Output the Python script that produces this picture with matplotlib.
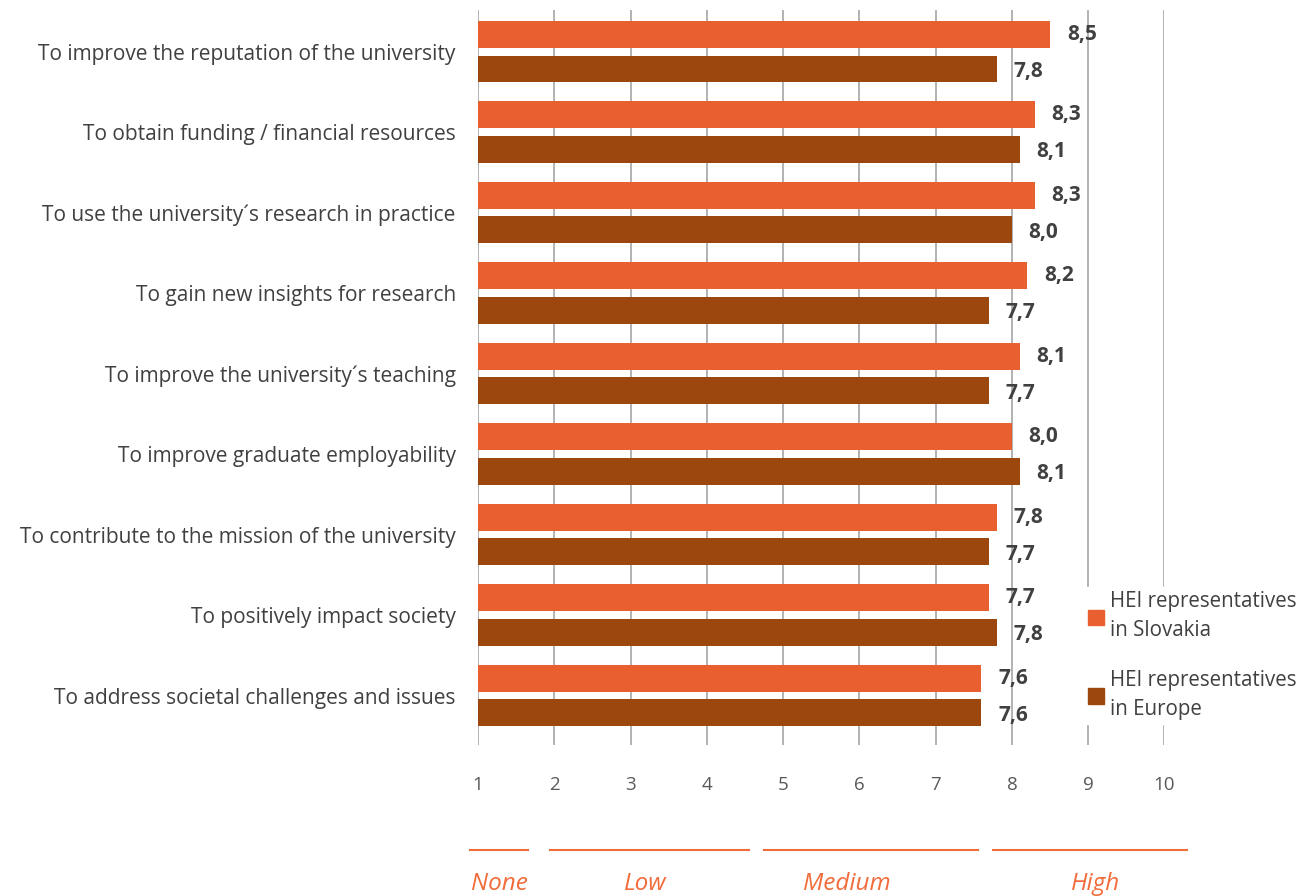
import numpy as np
import matplotlib.pyplot as plt
from matplotlib.patches import Patch

plt.rcParams['font.family'] = ['Open Sans', 'DejaVu Sans']

categories = [
    'To improve the reputation of the university',
    'To obtain funding / financial resources',
    'To use the university\u00b4s research in practice',
    'To gain new insights for research',
    'To improve the university\u00b4s teaching',
    'To improve graduate employability',
    'To contribute to the mission of the university',
    'To positively impact society',
    'To address societal challenges and issues',
]
slovakia = [8.5, 8.3, 8.3, 8.2, 8.1, 8.0, 7.8, 7.7, 7.6]
europe = [7.8, 8.1, 8.0, 7.7, 7.7, 8.1, 7.7, 7.8, 7.6]
series_names = ['HEI representatives\nin Slovakia', 'HEI representatives\nin Europe']
scale_labels = ['None', 'Low', 'Medium', 'High']

# where the scale bands sit, in x-axis units
band_spans = [(0.9, 1.65), (1.95, 4.55), (4.75, 7.55), (7.75, 10.3)]
band_text_x = [1.28, 3.2, 5.83, 9.1]

c_sk = '#E95F2F'
c_eu = '#9C470E'
txt = '#404040'
base = 1

fig = plt.figure(figsize=(13, 8.96), dpi=100)
ax = fig.add_axes([0.3677, 0.168, 0.528, 0.821])

y = np.arange(len(categories))
h = 0.335
off = 0.215
ax.barh(y - off, np.array(slovakia) - base, left=base, height=h, color=c_sk, zorder=2)
ax.barh(y + off, np.array(europe) - base, left=base, height=h, color=c_eu, zorder=2)

for yi, v in zip(y, slovakia):
    ax.text(v + 0.22, yi - off, f'{v:.1f}'.replace('.', ','), va='center', ha='left',
            fontsize=15, fontweight='bold', color=txt, zorder=3)
for yi, v in zip(y, europe):
    ax.text(v + 0.22, yi + off + 0.03, f'{v:.1f}'.replace('.', ','), va='center', ha='left',
            fontsize=15, fontweight='bold', color=txt, zorder=3)

ax.set_xlim(1, 10)
ax.set_ylim(len(categories) - 0.38, -0.52)
ax.set_xticks(range(1, 11))
ax.set_yticks(y)
ax.set_yticklabels(categories, fontsize=15, color=txt)
ax.tick_params(axis='y', length=0, pad=16)
ax.tick_params(axis='x', length=0, pad=22, labelsize=13.5, labelcolor='#595959')
ax.grid(axis='x', color='#A6A6A6', linewidth=1.2, zorder=0)
for s in ax.spines.values():
    s.set_visible(False)

handles = [Patch(color=c_sk), Patch(color=c_eu)]
leg = fig.legend(handles, series_names, loc='upper left', bbox_to_anchor=(0.826, 0.356),
                 frameon=True, fontsize=14.8, handlelength=0.75, handleheight=0.75,
                 handletextpad=0.3, labelspacing=1.4, borderpad=0.2, labelcolor=txt)
leg.get_frame().set_edgecolor('white')
leg.get_frame().set_facecolor('white')
leg.get_frame().set_alpha(1)
for t in leg.get_texts():
    t.set_linespacing(1.5)

# scale bands under the axis
band = fig.add_axes([0.3677, 0.0, 0.528, 0.07])
band.set_xlim(1, 10)
band.set_ylim(0, 1)
band.axis('off')
for lab, (a, b), tx in zip(scale_labels, band_spans, band_text_x):
    band.plot([a, b], [0.73, 0.73], color='#F26B3A', linewidth=1.5, clip_on=False)
    band.text(tx, 0.0, lab, ha='center', va='bottom', fontsize=17.5,
              style='italic', color='#F26B3A', clip_on=False)

fig.savefig('out.png', dpi=100)
